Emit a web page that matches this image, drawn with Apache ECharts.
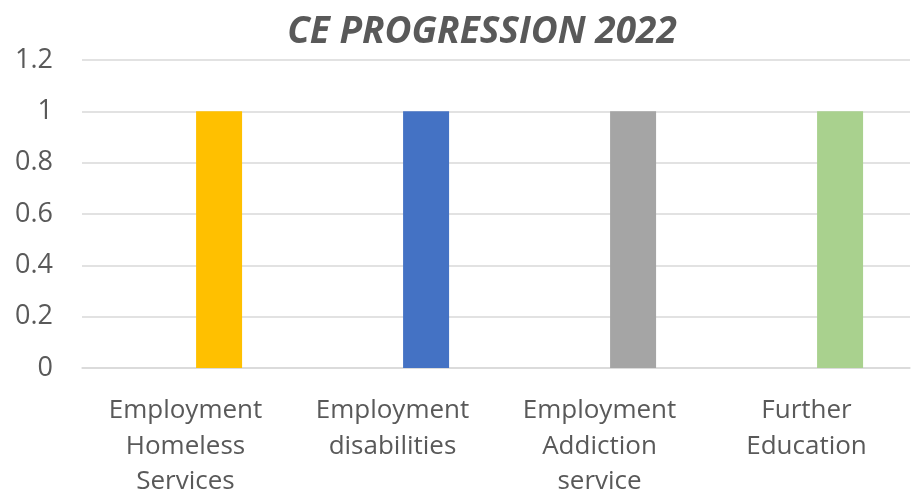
<!DOCTYPE html>
<html>
<head>
<meta charset="utf-8">
<style>
  html, body { margin: 0; padding: 0; background: #ffffff; }
  #chart { width: 921px; height: 491px; }
</style>
<script src="https://cdn.jsdelivr.net/npm/echarts@6/dist/echarts.min.js"></script>
</head>
<body>
<div id="chart"></div>
<script>
// Programme categories along the x axis
const categories = [
  'Employment\nHomeless\nServices',
  'Employment\ndisabilities',
  'Employment\nAddiction\nservice',
  'Further\nEducation'
];
// Earlier series has no entries; it only reserves its slot in each group
const priorValues = [null, null, null, null];
// Progression counts for 2022
const progressionValues = [1, 1, 1, 1];
const barColors = ['#FFC000', '#4472C4', '#A5A5A5', '#A9D18E'];
// Value axis ticks
const yMin = 0, yMax = 1.2, yStep = 0.2;

const chart = echarts.init(document.getElementById('chart'), null, { renderer: 'canvas' });

const labelColor = '#595959';
const font = '"Open Sans", "Noto Sans", sans-serif';

chart.setOption({
  animation: false,
  title: {
    text: 'CE PROGRESSION 2022',
    left: 477,
    textAlign: 'center',
    top: 9,
    textStyle: {
      fontFamily: font,
      fontSize: 37,
      fontWeight: 'bold',
      fontStyle: 'italic',
      color: labelColor
    }
  },
  grid: {
    left: 82, right: 11, top: 60, bottom: 123,
    containLabel: false,
    outerBoundsMode: 'none'
  },
  xAxis: {
    type: 'category',
    data: categories,
    axisLine: { show: true, lineStyle: { color: '#D9D9D9', width: 1.5 } },
    axisTick: { show: false },
    axisLabel: {
      color: labelColor,
      fontFamily: font,
      fontSize: 26,
      lineHeight: 35.5,
      margin: 25,
      interval: 0
    }
  },
  yAxis: {
    type: 'value',
    min: yMin,
    max: yMax,
    interval: yStep,
    axisLine: { show: false },
    axisTick: { show: false },
    splitLine: { lineStyle: { color: '#D9D9D9', width: 1.5 } },
    axisLabel: {
      color: labelColor,
      fontFamily: font,
      fontSize: 27,
      margin: 29,
      formatter: v => String(Math.round(v * 10) / 10)
    }
  },
  series: [
    {
      name: 'Prior',
      type: 'bar',
      data: priorValues,
      barWidth: 46,
      barGap: '46%'
    },
    {
      name: '2022',
      type: 'bar',
      barWidth: 46,
      barGap: '46%',
      data: progressionValues.map((v, i) => ({ value: v, itemStyle: { color: barColors[i] } }))
    }
  ]
});
</script>
</body>
</html>
